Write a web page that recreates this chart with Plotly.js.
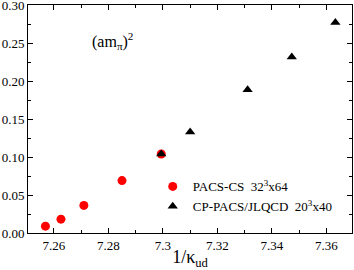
<!DOCTYPE html>
<html><head><meta charset="utf-8">
<script src="https://cdn.plot.ly/plotly-3.0.1.min.js"></script>
<style>html,body{margin:0;padding:0;background:#fff}</style>
</head><body>
<div id="chart" style="width:354px;height:270px"></div>
<script>
const pacsX = [7.2569, 7.2626, 7.2710, 7.2850, 7.2994];
const pacsY = [0.0090, 0.0182, 0.0363, 0.0690, 0.1040];
const cpX = [7.2994, 7.3100, 7.3311, 7.3473, 7.3633];
const cpY = [0.1040, 0.1329, 0.1886, 0.2316, 0.2771];
const seriesNames = ["PACS-CS&nbsp;&nbsp;32<sup>3</sup>x64", "CP-PACS/JLQCD&nbsp;&nbsp;20<sup>3</sup>x40"];
const xTicks = [7.26, 7.28, 7.30, 7.32, 7.34, 7.36];
const xTickText = ["7.26", "7.28", "7.3", "7.32", "7.34", "7.36"];
const yTicks = [0, 0.05, 0.10, 0.15, 0.20, 0.25, 0.30];

const FAM = "'Liberation Serif', 'Times New Roman', serif";
function f(size) { return {family: FAM, size: size, color: "#000"}; }
const traces = [
  {x: pacsX, y: pacsY, mode: "markers", type: "scatter", name: seriesNames[0],
   marker: {symbol: "circle", size: 9, color: "#ff0000"}},
  {x: cpX, y: cpY, mode: "markers", type: "scatter", name: seriesNames[1],
   marker: {symbol: "triangle-up", size: 9, color: "#000000"}}
];
const axisCommon = {
  showgrid: false, zeroline: false, showline: true, linecolor: "#000", linewidth: 1,
  mirror: "ticks", ticks: "inside", ticklen: 5, tickwidth: 1, tickcolor: "#000",
  tickfont: f(13), ticklabeloverflow: "allow"
};
const layout = {
  width: 354, height: 270,
  margin: {l: 28, r: 2, t: 5, b: 37},
  paper_bgcolor: "#fff", plot_bgcolor: "#fff",
  font: f(13),
  showlegend: true,
  legend: {x: 0.385, y: 0.27, xanchor: "left", yanchor: "top", bgcolor: "rgba(0,0,0,0)",
           font: f(13), itemwidth: 30, tracegroupgap: 0},
  xaxis: Object.assign({}, axisCommon, {
    range: [7.2505, 7.3694], tickvals: xTicks, ticktext: xTickText,
    minor: {dtick: 0.01, tick0: 7.25, ticks: "inside", ticklen: 3, tickcolor: "#000", showgrid: false},
    title: {text: "1/κ<sub>ud</sub>", font: f(18), standoff: 3}
  }),
  yaxis: Object.assign({}, axisCommon, {
    range: [0, 0.30], tickvals: yTicks, tickformat: ".2f",
    minor: {dtick: 0.025, tick0: 0, ticks: "inside", ticklen: 3, tickcolor: "#000", showgrid: false}
  }),
  annotations: [{
    xref: "paper", yref: "paper", x: 0.19, y: 0.84, xanchor: "left", yanchor: "middle",
    text: "(am<sub>π</sub>)<sup>2</sup>", showarrow: false, font: f(16)
  }]
};
Plotly.newPlot("chart", traces, layout, {displayModeBar: false, staticPlot: true});
</script>
</body></html>
